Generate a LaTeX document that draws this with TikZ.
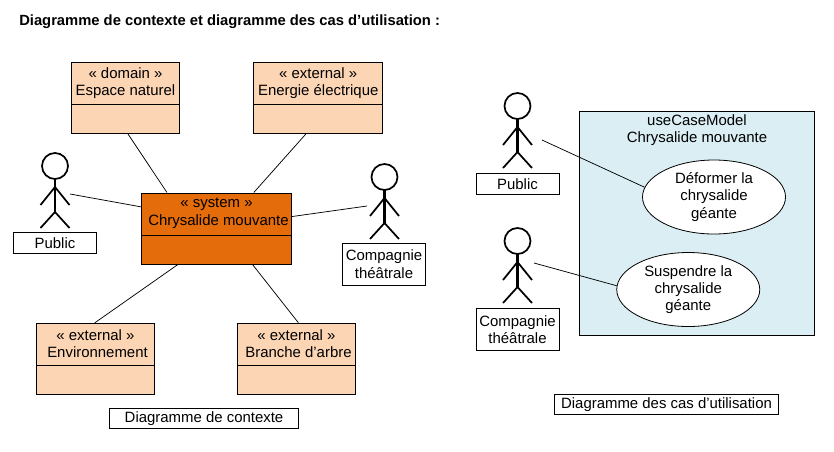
\documentclass[tikz,border=0pt]{standalone}
\usepackage{fontspec}
\usepackage{xcolor}
\usepackage{tikz}
\usetikzlibrary{scopes,shapes.multipart,shapes.geometric}
\setmainfont{Liberation Sans}
\definecolor{peach}{HTML}{FCD5B4}
\definecolor{sysorange}{HTML}{E46C0A}
\definecolor{paleblue}{HTML}{DAEEF3}
\newcommand{\classtext}[3]{\parbox[c][30.75pt][c]{#1}{\centering #2\\#3\par\vspace{1pt}}\nodepart{two}\rule{0pt}{21pt}}

\begin{document}
\begin{tikzpicture}[
      x=0.75pt,y=-0.75pt,
      every node/.style={font=\fontsize{11.2}{13}\selectfont},
      umlclass/.style={rectangle split,rectangle split parts=2,draw=black,line width=0.75pt,fill=peach,inner sep=0pt},
      namebox/.style={draw=black,line width=0.6pt,fill=white,inner sep=0pt,align=center,minimum width=62.25pt},
      usecase/.style={ellipse,draw=black,line width=0.6pt,fill=white,inner sep=0pt,align=center,minimum width=107.25pt,minimum height=55.5pt},
      assoc/.style={draw=black,line width=0.55pt},
      actor/.pic={
          \draw[line width=1.3pt] (0,0) circle (13);
          \draw[line width=2pt] (0,13) -- (0,46);
          \draw[line width=1.3pt] (-14.5,39) -- (0,21) -- (14.5,39);
          \draw[line width=1.3pt] (-14.5,62) -- (0,46) -- (14.5,62);
      }
]
      \useasboundingbox (0,0) rectangle (834,451);
      \node[anchor=west,inner sep=0pt,font=\fontsize{11.07}{13}\selectfont\bfseries] at (19,22) (title) {Diagramme de contexte et diagramme des cas d’utilisation :};

      \node[umlclass] at (125.5,98) (espace) {\classtext{81pt}{« domain »}{Espace naturel}};
      \node[umlclass] at (318.25,98) (energie) {\classtext{97pt}{« external »}{Energie électrique}};
      \node[umlclass,fill=sysorange] at (216.5,228.5) (system) {\classtext{112.5pt}{« system »}{\hspace*{3pt}Chrysalide mouvante}};
      \node[umlclass] at (95.5,358.75) (environ) {\classtext{88.5pt}{« external »}{\hspace*{3pt}Environnement}};
      \node[umlclass] at (296.5,358.75) (branche) {\classtext{88.5pt}{« external »}{\hspace*{3pt}Branche d’arbre}};
      \node[namebox,minimum width=141.75pt,minimum height=15pt] at (204,418.5) (ctxlabel) {\raisebox{-0.7pt}{Diagramme de contexte}};

      \pic at (55,166) {actor};
      \node[namebox,minimum height=15.4pt] at (55,242.75) (public) {Public};
      \pic at (384.5,177) {actor};
      \node[namebox,minimum height=31.5pt] at (384,264) (compagnie) {Compagnie\\théâtrale};
      \coordinate (publichand) at (70,194);
      \coordinate (compagniehand) at (367,206);

      {[assoc]
          \draw (espace.-86) -- (system.144.2);
          \draw (energie.-109) -- (system.44.6);
          \draw (publichand) -- (system.164.4);
          \draw (compagniehand) -- (system.9.6);
          \draw (environ.91) -- (system.-137.3);
          \draw (branche.87.6) -- (system.-45);
      }

      \node[draw=black,line width=0.6pt,fill=paleblue,minimum width=176.25pt,minimum height=168pt,inner sep=0pt] at (697,223.5) (model) {};
      \node at (697,130) (modeltitle) [align=center] {useCaseModel\\Chrysalide mouvante};
      \node[usecase] at (714,197) (deformer) {Déformer la\\chrysalide\\géante};
      \node[usecase] at (688.25,289.5) (suspendre) {Suspendre la\\chrysalide\\géante};

      \pic at (517.5,106) {actor};
      \node[namebox,minimum height=15.75pt] at (517.5,184) (public2) {Public};
      \pic at (517.5,241) {actor};
      \node[namebox,minimum height=31.5pt] at (517.5,329.5) (compagnie2) {Compagnie\\théâtrale};
      \coordinate (public2hand) at (542,140);
      \coordinate (compagnie2hand) at (534,263);

      {[assoc]
          \draw (public2hand) -- (deformer.172);
          \draw (compagnie2hand) -- (suspendre.177);
      }

      \node[namebox,minimum width=168pt,minimum height=15pt] at (666.5,404.5) (ucdlabel) {Diagramme des cas d’utilisation};
\end{tikzpicture}
\end{document}
